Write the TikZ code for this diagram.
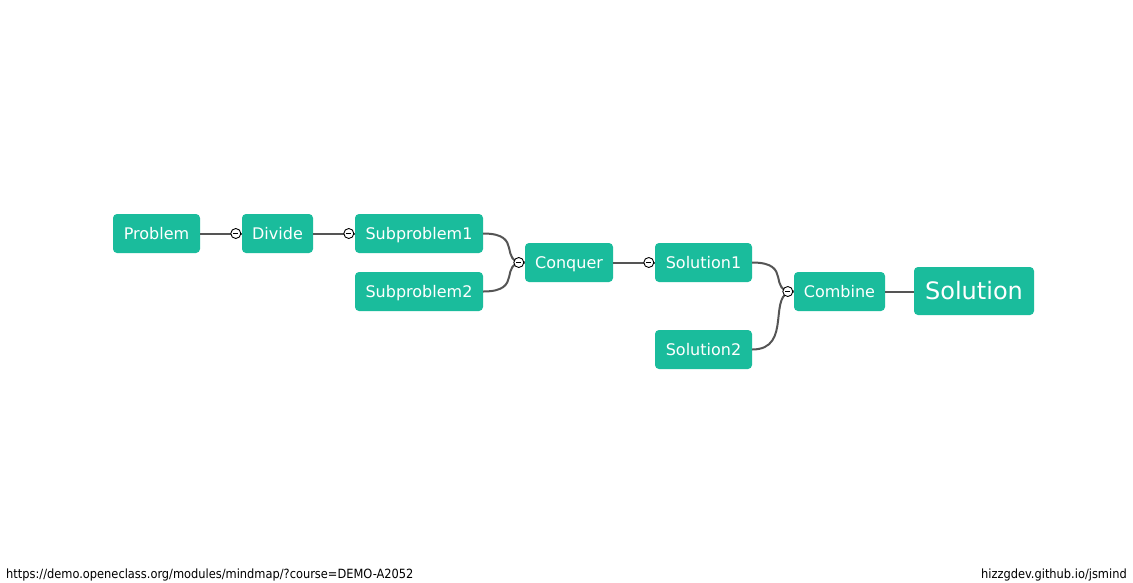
\documentclass[tikz,border=0pt]{standalone}
\usepackage{fontspec}
\setmainfont{DejaVu Sans}
\newfontfamily\footfont{DejaVu Sans Condensed}
\definecolor{jsgreen}{HTML}{1ABC9C}
\definecolor{jsline}{HTML}{555555}
\begin{document}
\begin{tikzpicture}[x=1pt,y=-1pt,
  topic/.style={fill=jsgreen,text=white,rounded corners=4pt,inner xsep=0pt,inner ysep=0pt,
    font=\fontsize{16}{18}\selectfont,text height=14pt,text depth=2pt,anchor=center},
  bigtopic/.style={topic,font=\fontsize{24}{28}\selectfont,text height=21pt,text depth=4pt},
  link/.style={draw=jsline,line width=2pt},
  toggle/.style={circle,draw=black,fill=white,line width=0.9pt,minimum size=10pt,inner sep=0pt},
  foot/.style={font=\footfont\fontsize{12.7}{14}\selectfont,inner sep=0pt}]
\useasboundingbox[fill=white] (0,0) rectangle (1133,582);
\node[topic,minimum width=87pt,minimum height=39pt] (problem) at (156.5,233.5) {Problem};
\node[topic,minimum width=71pt,minimum height=39pt] (divide) at (277.5,233.5) {Divide};
\node[topic,minimum width=128pt,minimum height=39pt] (sub1) at (419,233.5) {Subproblem1};
\node[topic,minimum width=128pt,minimum height=39pt] (sub2) at (419,291.5) {Subproblem2};
\node[topic,minimum width=88pt,minimum height=39pt] (conquer) at (569,262.5) {Conquer};
\node[topic,minimum width=97pt,minimum height=39pt] (sol1) at (703.5,262.5) {Solution1};
\node[topic,minimum width=97pt,minimum height=39pt] (sol2) at (703.5,349.5) {Solution2};
\node[topic,minimum width=91pt,minimum height=39pt] (combine) at (839.5,291.5) {Combine};
\node[bigtopic,minimum width=120pt,minimum height=48pt] (solution) at (974,291) {Solution};
% links
\draw[link] (problem.east) -- (divide.west);
\draw[link] (divide.east) -- (sub1.west);
\draw[link] (sub1.east) .. controls (sub1.east -| conquer.west) and ([xshift=-28pt]conquer.west) .. (conquer.west);
\draw[link] (sub2.east) .. controls (sub2.east -| conquer.west) and ([xshift=-28pt]conquer.west) .. (conquer.west);
\draw[link] (conquer.east) -- (sol1.west);
\draw[link] (sol1.east) .. controls (sol1.east -| combine.west) and ([xshift=-28pt]combine.west) .. (combine.west);
\draw[link] (sol2.east) .. controls (sol2.east -| combine.west) and ([xshift=-28pt]combine.west) .. (combine.west);
\draw[link] (combine.east) -- (solution.west |- combine.east);
% toggles
\foreach \n/\t in {divide/t1,sub1/t2,conquer/t3,sol1/t4,combine/t5}{
  \node[toggle] (\t) at ([xshift=-6pt]\n.west) {};
  \draw[line width=1.4pt] ([xshift=-2.6pt]\t.center) -- ([xshift=2.6pt]\t.center);
}
\node[foot,anchor=base west] (url) at (6,578) {https://demo.openeclass.org/modules/mindmap/?course=DEMO-A2052};
\node[foot,anchor=base east] (brand) at (1127,578) {hizzgdev.github.io/jsmind};
\end{tikzpicture}
\end{document}
